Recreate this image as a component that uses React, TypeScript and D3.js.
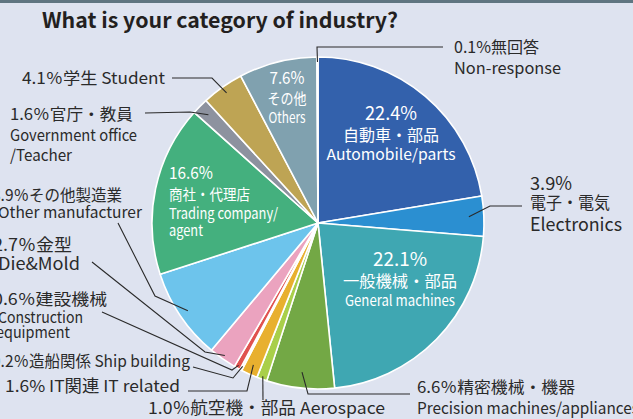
import * as d3 from "d3";

// share of respondents by industry, clockwise from 12 o'clock
const categoriesEn = [
  "Automobile/parts",
  "Electronics",
  "General machines",
  "Precision machines/appliances",
  "Aerospace",
  "IT related",
  "Ship building",
  "Construction equipment",
  "Die&Mold",
  "Other manufacturer",
  "Trading company/agent",
  "Government office/Teacher",
  "Student",
  "Others",
  "Non-response",
];
const categoriesJa = [
  "自動車・部品",
  "電子・電気",
  "一般機械・部品",
  "精密機械・機器",
  "航空機・部品",
  "IT関連",
  "造船関係",
  "建設機械",
  "金型",
  "その他製造業",
  "商社・代理店",
  "官庁・教員",
  "学生",
  "その他",
  "無回答",
];
const shares = [22.4, 3.9, 22.1, 6.6, 1.0, 1.6, 0.2, 0.6, 2.7, 8.9, 16.6, 1.6, 4.1, 7.6, 0.1];

const sliceColors = [
  "#3361ac", "#2b8fd1", "#3fa7b2", "#73a845", "#a9cf4a",
  "#e8b02f", "#f4e9ea", "#e0524f", "#eba3bf", "#6dc4ec",
  "#44b07e", "#8d929f", "#bea454", "#80a1af", "#ffffff",
];

const W = 633;
const H = 419;
const cx = 318;
const cy = 223;
const R = 166;
const FONT = "'Noto Sans CJK JP', 'Noto Sans', sans-serif";
const INK = "#2a2a2a";

// t: text, x/y: baseline start, size: font px, w: rendered width in the original
type Line = { t: string; x: number; y: number; size?: number; w?: number };
type Callout = { cat: number; lines: Line[]; elbow: [number, number][]; r: number };

// labels outside the pie with leader lines
const callouts: Callout[] = [
  {
    cat: 14,
    lines: [{ t: "0.1%無回答", x: 454, y: 53, w: 85 }, { t: "Non-response", x: 454, y: 74, w: 107 }],
    elbow: [[443, 47], [317, 47]],
    r: 161,
  },
  { cat: 12, lines: [{ t: "4.1％学生 Student", x: 22, y: 84, w: 143 }], elbow: [[172, 78], [212, 78]], r: 159 },
  {
    cat: 11,
    lines: [
      { t: "1.6％官庁・教員", x: 10, y: 120, w: 123 },
      { t: "Government office", x: 10, y: 141, w: 127 },
      { t: "/Teacher", x: 10, y: 161, w: 62 },
    ],
    elbow: [[145, 113], [190, 112]],
    r: 154,
  },
  {
    cat: 9,
    lines: [{ t: "8.9％その他製造業", x: -8, y: 201, w: 130 }, { t: "Other manufacturer", x: -2, y: 218, size: 15, w: 144 }],
    elbow: [[118, 223], [155, 296]],
    r: 157,
  },
  {
    cat: 8,
    lines: [{ t: "2.7％金型", x: -7, y: 251, size: 17, w: 79 }, { t: "Die&Mold", x: -2, y: 270, size: 17, w: 82 }],
    elbow: [[92, 262], [205, 352]],
    r: 162,
  },
  {
    cat: 7,
    lines: [
      { t: "0.6％建設機械", x: -7, y: 305, w: 114 },
      { t: "Construction", x: -2, y: 323, size: 15, w: 85 },
      { t: "equipment", x: -4, y: 338, size: 15, w: 74 },
    ],
    elbow: [[102, 312], [232, 370]],
    r: 163,
  },
  { cat: 6, lines: [{ t: "0.2％造船関係 Ship building", x: -8, y: 367, w: 198 }], elbow: [[193, 367], [233, 378]], r: 162 },
  { cat: 5, lines: [{ t: "1.6% IT関連 IT related", x: 5, y: 392, size: 16.5, w: 175 }], elbow: [[188, 391], [247, 391]], r: 156 },
  { cat: 4, lines: [{ t: "1.0％航空機・部品 Aerospace", x: 148, y: 414, size: 16.5, w: 237 }], elbow: [[263, 400]], r: 163 },
  {
    cat: 3,
    lines: [
      { t: "6.6％精密機械・機器", x: 417, y: 393, w: 158 },
      { t: "Precision machines/appliances", x: 417, y: 414, w: 222 },
    ],
    elbow: [[410, 394], [308, 394]],
    r: 150,
  },
  {
    cat: 1,
    lines: [
      { t: "3.9%", x: 530, y: 190, size: 18, w: 42 },
      { t: "電子・電気", x: 530, y: 209, size: 17, w: 80 },
      { t: "Electronics", x: 530, y: 231, size: 18, w: 92 },
    ],
    elbow: [[522, 206], [490, 206]],
    r: 151,
  },
];

// white labels inside the big slices
const insideLabels: { anchor: "middle" | "start"; lines: Line[] }[] = [
  {
    anchor: "middle",
    lines: [
      { t: "22.4%", x: 391, y: 120, size: 19, w: 52 },
      { t: "自動車・部品", x: 391, y: 141, size: 16, w: 96 },
      { t: "Automobile/parts", x: 391, y: 160, size: 15, w: 129 },
    ],
  },
  {
    anchor: "middle",
    lines: [
      { t: "7.6%", x: 287, y: 84, size: 17, w: 35 },
      { t: "その他", x: 287, y: 104, size: 15, w: 39 },
      { t: "Others", x: 287, y: 123, size: 15, w: 37 },
    ],
  },
  {
    anchor: "start",
    lines: [
      { t: "16.6%", x: 169, y: 179, size: 17, w: 44 },
      { t: "商社・代理店", x: 169, y: 200, size: 15, w: 81 },
      { t: "Trading company/", x: 169, y: 219, size: 15, w: 109 },
      { t: "agent", x: 169, y: 236, size: 15, w: 34 },
    ],
  },
  {
    anchor: "middle",
    lines: [
      { t: "22.1%", x: 400, y: 266, size: 19, w: 54 },
      { t: "一般機械・部品", x: 400, y: 287, size: 16, w: 114 },
      { t: "General machines", x: 400, y: 306, size: 15, w: 110 },
    ],
  },
];

function Txt({ l, fill }: { l: Line; fill: string }) {
  return (
    <text
      x={l.x}
      y={l.y}
      fontSize={l.size ?? 16}
      fill={fill}
      textLength={l.w}
      lengthAdjust={l.w ? "spacingAndGlyphs" : undefined}
    >
      {l.t}
    </text>
  );
}

export default function App() {
  const arcs = d3.pie<number>().sort(null).value((d) => d)(shares);
  const arc = d3.arc<d3.PieArcDatum<number>>().innerRadius(0).outerRadius(R);
  const line = d3.line();

  const anchorAt = (i: number, r: number): [number, number] => {
    const a = (arcs[i].startAngle + arcs[i].endAngle) / 2;
    return [cx + r * Math.sin(a), cy - r * Math.cos(a)];
  };

  return (
    <svg width={W} height={H} style={{ position: "absolute", left: 0, top: 0, display: "block" }} fontFamily={FONT}>
      <rect width={W} height={H} fill="#dee3f0" />
      <rect width={W} height={3} fill="#5f7581" />
      <text x={42} y={28} fontSize={21} fontWeight={700} fill="#231f20" textLength={356} lengthAdjust="spacingAndGlyphs">
        What is your category of industry?
      </text>

      <g transform={`translate(${cx},${cy})`}>
        {arcs.map((d, i) => (
          <path key={categoriesEn[i]} d={arc(d) ?? ""} fill={sliceColors[i]} stroke="#fff" strokeWidth={1.6} strokeLinejoin="round">
            <title>{`${categoriesJa[i]} ${categoriesEn[i]} ${shares[i]}%`}</title>
          </path>
        ))}
      </g>

      {callouts.map((c) => (
        <g key={c.cat}>
          <path d={line([...c.elbow, anchorAt(c.cat, c.r)]) ?? ""} fill="none" stroke={INK} strokeWidth={1.1} />
          {c.lines.map((l) => (
            <Txt key={l.t} l={l} fill={INK} />
          ))}
        </g>
      ))}

      {insideLabels.map((g, gi) => (
        <g key={gi} textAnchor={g.anchor}>
          {g.lines.map((l) => (
            <Txt key={l.t} l={l} fill="#fff" />
          ))}
        </g>
      ))}
    </svg>
  );
}
